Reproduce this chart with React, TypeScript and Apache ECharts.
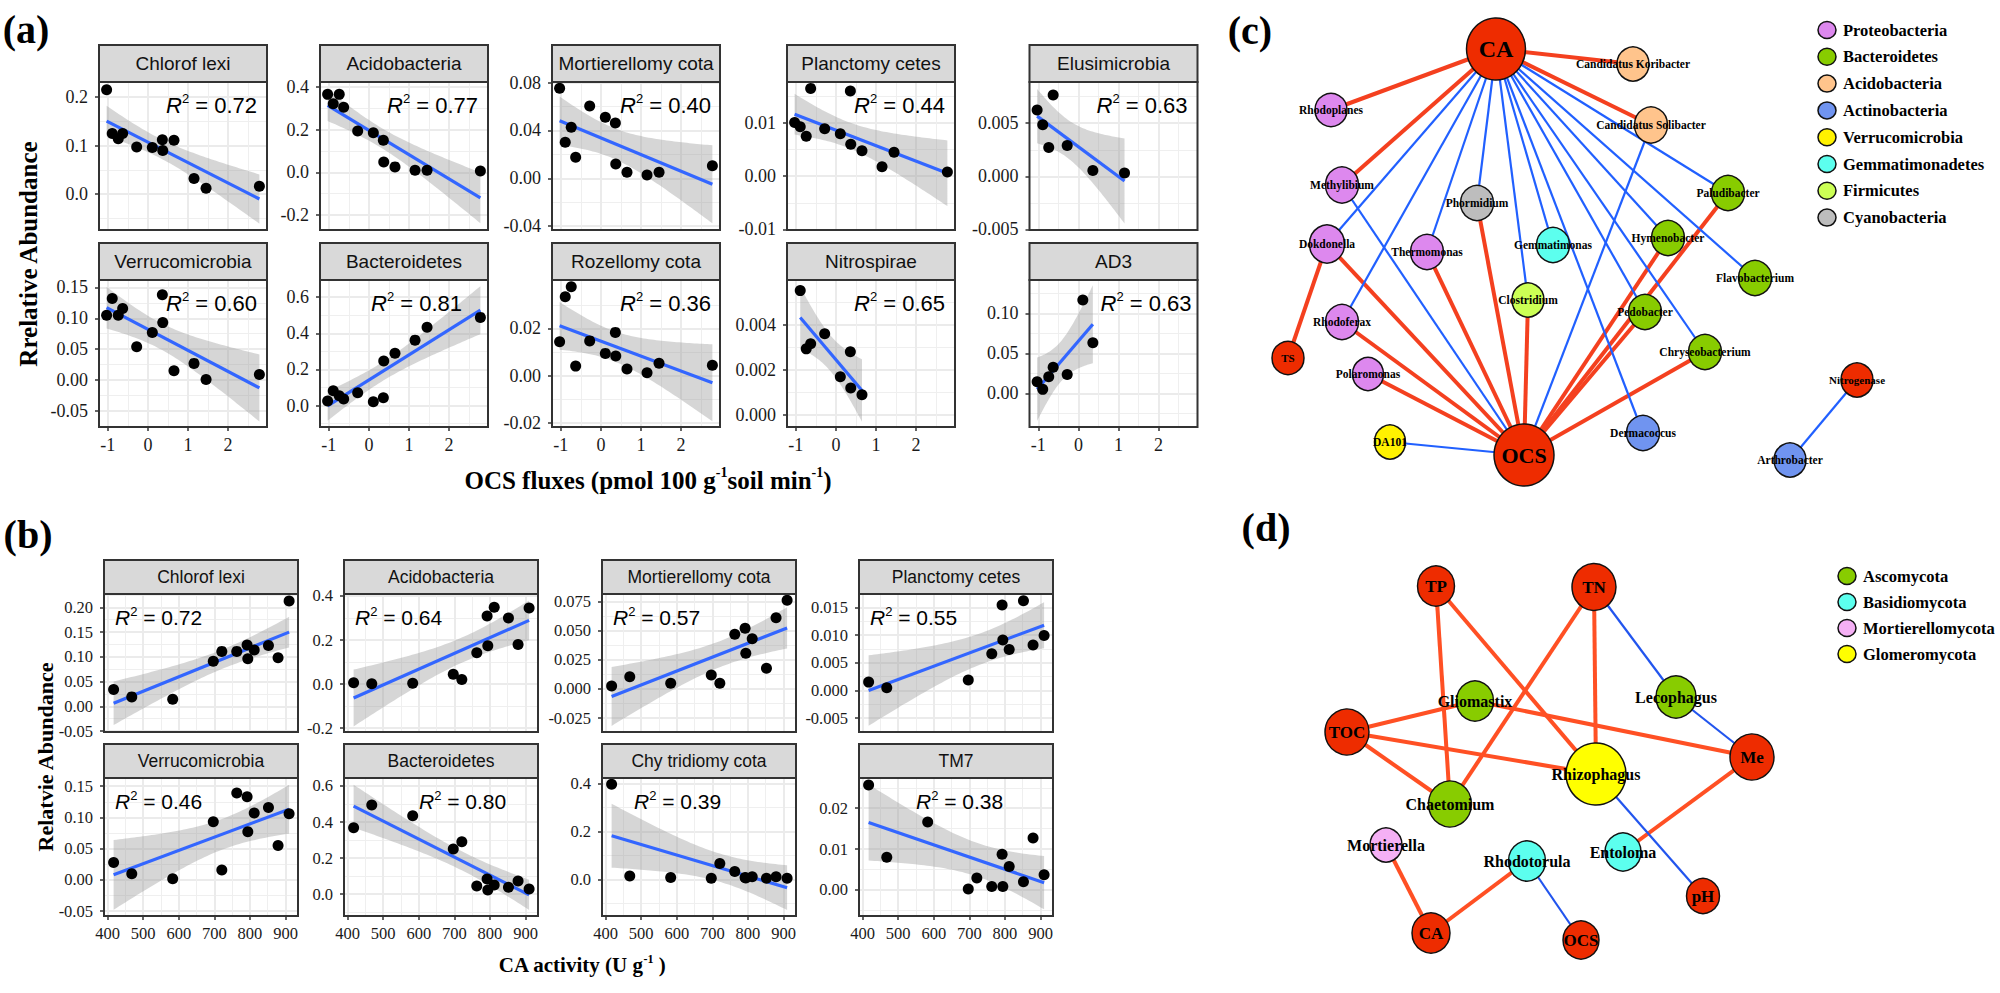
import React, { useEffect, useRef } from "react";
import * as echarts from "echarts";

// ---------------- panel (a): OCS fluxes vs relative abundance ----------------
const ocsFluxes = [-1.03, -0.89, -0.74, -0.63, -0.28, 0.11, 0.36, 0.37, 0.65, 1.15, 1.45, 2.78];
const aChloroflexi = [0.215, 0.125, 0.114, 0.125, 0.097, 0.096, 0.112, 0.09, 0.111, 0.032, 0.012, 0.016];
const aAcidobacteria = [0.366, 0.322, 0.366, 0.306, 0.194, 0.186, 0.151, 0.049, 0.026, 0.01, 0.01, 0.007];
const aMortierellomycota = [0.0753, 0.0301, 0.0427, 0.0176, 0.0605, 0.051, 0.0463, 0.012, 0.005, 0.0028, 0.005, 0.0105];
const aPlanctomycetes = [0.0101, 0.0093, 0.0075, 0.0165, 0.0089, 0.008, 0.016, 0.006, 0.0048, 0.0018, 0.0045, 0.0008];
const aElusimicrobia = [0.00625, 0.00485, 0.00272, 0.00766, 0.00291, null, 0.00056, null, null, 0.00031, null, null];
const aVerrucomicrobia = [0.105, 0.132, 0.105, 0.116, 0.054, 0.077, 0.138, 0.093, 0.015, 0.027, 0.001, 0.009];
const aBacteroidetes = [0.025, 0.082, 0.054, 0.036, 0.071, 0.021, 0.043, 0.246, 0.289, 0.362, 0.433, 0.488];
const aRozellomycota = [0.0143, 0.0334, 0.0376, 0.004, 0.0147, 0.0094, 0.0183, 0.0083, 0.0028, 0.0012, 0.0052, 0.0044];
const aNitrospirae = [null, 0.00551, 0.00293, 0.00316, 0.0036, 0.0017, 0.0028, 0.0012, 0.0009, null, null, null];
const aAD3 = [0.0145, 0.005, 0.0208, 0.0325, 0.0237, 0.1166, 0.0633, null, null, null, null, null];

const aTitles = ["Chlorof lexi", "Acidobacteria", "Mortierellomy cota", "Planctomy cetes", "Elusimicrobia",
  "Verrucomicrobia", "Bacteroidetes", "Rozellomy cota", "Nitrospirae", "AD3"];
const aValues = [aChloroflexi, aAcidobacteria, aMortierellomycota, aPlanctomycetes, aElusimicrobia,
  aVerrucomicrobia, aBacteroidetes, aRozellomycota, aNitrospirae, aAD3];
const aR2 = ["0.72", "0.77", "0.40", "0.44", "0.63", "0.60", "0.81", "0.36", "0.65", "0.63"];
const aXRange = [-1.22, 2.97];
const aXTicks = [-1, 0, 1, 2];
const aYRanges = [[-0.074, 0.231], [-0.27, 0.424], [-0.0433, 0.0806], [-0.0101, 0.0177], [-0.00505, 0.00888],
  [-0.076, 0.162], [-0.119, 0.695], [-0.0218, 0.0405], [-0.00053, 0.00598], [-0.042, 0.1416]];
const aYTicks = [[0, 0.1, 0.2], [-0.2, 0, 0.2, 0.4], [-0.04, 0, 0.04, 0.08], [-0.01, 0, 0.01], [-0.005, 0, 0.005],
  [-0.05, 0, 0.05, 0.1, 0.15], [0, 0.2, 0.4, 0.6], [-0.02, 0, 0.02], [0, 0.002, 0.004], [0, 0.05, 0.1]];
const aYDecimals = [1, 1, 2, 2, 3, 2, 1, 2, 3, 2];

// ---------------- panel (b): CA activity vs relative abundance ----------------
const caActivity = [417, 468, 583, 697, 721, 763, 792, 794, 812, 852, 879, 910];
const bChloroflexi = [0.034, 0.019, 0.014, 0.091, 0.111, 0.111, 0.124, 0.096, 0.114, 0.123, 0.098, 0.213];
const bAcidobacteria = [0.006, 0.001, 0.003, 0.044, 0.021, 0.142, 0.309, 0.174, 0.349, 0.3, 0.18, 0.345];
const bMortierellomycota = [0.0026, 0.0105, 0.0049, 0.012, 0.0049, 0.0468, 0.052, 0.0306, 0.043, 0.0177, 0.061, 0.076];
const bPlanctomycetes = [0.0015, 0.0005, null, 0.0019, null, 0.0066, 0.0154, 0.0091, 0.0074, 0.0162, 0.0082, 0.0099];
const bVerrucomicrobia = [0.028, 0.01, 0.002, 0.093, 0.016, 0.139, 0.133, 0.077, 0.107, 0.116, 0.055, 0.106];
const bBacteroidetes = [0.368, 0.494, 0.435, 0.25, 0.291, 0.045, 0.084, 0.023, 0.051, 0.038, 0.073, 0.029];
const bChytridiomycota = [0.397, 0.015, 0.008, 0.005, 0.067, 0.033, 0.008, 0.006, 0.012, 0.005, 0.012, 0.005];
const bTM7 = [0.0257, 0.008, 0.0166, 0.0002, 0.0029, 0.0008, 0.0087, 0.0008, 0.0057, 0.002, 0.0127, 0.0037];

const bTitles = ["Chlorof lexi", "Acidobacteria", "Mortierellomy cota", "Planctomy cetes",
  "Verrucomicrobia", "Bacteroidetes", "Chy tridiomy cota", "TM7"];
const bValues = [bChloroflexi, bAcidobacteria, bMortierellomycota, bPlanctomycetes,
  bVerrucomicrobia, bBacteroidetes, bChytridiomycota, bTM7];
const bR2 = ["0.72", "0.64", "0.57", "0.55", "0.46", "0.80", "0.39", "0.38"];
const bXRange = [390, 935];
const bXTicks = [400, 500, 600, 700, 800, 900];
const bYRanges = [[-0.052, 0.227], [-0.218, 0.409], [-0.0368, 0.0813], [-0.0075, 0.0174],
  [-0.0576, 0.163], [-0.121, 0.644], [-0.152, 0.423], [-0.0064, 0.0274]];
const bYTicks = [[-0.05, 0, 0.05, 0.1, 0.15, 0.2], [-0.2, 0, 0.2, 0.4], [-0.025, 0, 0.025, 0.05, 0.075],
  [-0.005, 0, 0.005, 0.01, 0.015], [-0.05, 0, 0.05, 0.1, 0.15], [0, 0.2, 0.4, 0.6], [0, 0.2, 0.4], [0, 0.01, 0.02]];
const bYDecimals = [2, 1, 3, 3, 2, 1, 1, 2];

// ---------------- panel (c): bacterial network ----------------
const cGroups = ["Proteobacteria", "Bacteroidetes", "Acidobacteria", "Actinobacteria", "Verrucomicrobia",
  "Gemmatimonadetes", "Firmicutes", "Cyanobacteria"];
const cGroupColors = ["#DD88EE", "#88CC00", "#FFC48C", "#7094F0", "#FFF200", "#5CFFEE", "#CCFF55", "#BDBDBD"];
// [name, group, x, y, width, height]
const cNodes: [string, string, number, number, number, number][] = [
  ["CA", "env", 1496, 49, 59, 62],
  ["OCS", "env", 1524, 455, 60, 62],
  ["Candidatus Koribacter", "Acidobacteria", 1633, 64, 32, 34],
  ["Candidatus Solibacter", "Acidobacteria", 1651, 125, 33, 36],
  ["Rhodoplanes", "Proteobacteria", 1331, 110, 32, 33],
  ["Methylibium", "Proteobacteria", 1342, 185, 33, 36],
  ["Phormidium", "Cyanobacteria", 1477, 203, 33, 35],
  ["Paludibacter", "Bacteroidetes", 1728, 193, 33, 35],
  ["Dokdonella", "Proteobacteria", 1327, 244, 35, 38],
  ["Thermomonas", "Proteobacteria", 1427, 252, 33, 35],
  ["Gemmatimonas", "Gemmatimonadetes", 1553, 245, 33, 35],
  ["Hymenobacter", "Bacteroidetes", 1668, 238, 33, 35],
  ["Clostridium", "Firmicutes", 1528, 300, 32, 34],
  ["Flavobacterium", "Bacteroidetes", 1755, 278, 33, 35],
  ["Pedobacter", "Bacteroidetes", 1645, 312, 33, 35],
  ["Rhodoferax", "Proteobacteria", 1342, 322, 33, 35],
  ["Chryseobacterium", "Bacteroidetes", 1705, 352, 33, 35],
  ["TS", "env", 1288, 358, 32, 33],
  ["Polaromonas", "Proteobacteria", 1368, 374, 31, 33],
  ["Nitrogenase", "env", 1857, 380, 32, 34],
  ["Dermacoccus", "Actinobacteria", 1643, 433, 33, 35],
  ["DA101", "Verrucomicrobia", 1390, 442, 31, 34],
  ["Arthrobacter", "Actinobacteria", 1790, 460, 32, 34],
];
// [source, target, sign]
const cEdges: [string, string, number][] = [
  ["CA", "Rhodoplanes", 1], ["CA", "Methylibium", 1], ["CA", "Candidatus Koribacter", 1], ["CA", "Candidatus Solibacter", 1],
  ["TS", "Dokdonella", 1], ["Dokdonella", "OCS", 1], ["Rhodoferax", "OCS", 1], ["Polaromonas", "OCS", 1],
  ["Thermomonas", "OCS", 1], ["Phormidium", "OCS", 1], ["Clostridium", "OCS", 1], ["Hymenobacter", "OCS", 1],
  ["Pedobacter", "OCS", 1], ["Paludibacter", "OCS", 1], ["Chryseobacterium", "OCS", 1],
  ["CA", "Dokdonella", -1], ["CA", "Rhodoferax", -1], ["CA", "Thermomonas", -1], ["CA", "Phormidium", -1],
  ["CA", "Clostridium", -1], ["CA", "Gemmatimonas", -1], ["CA", "Hymenobacter", -1], ["CA", "Paludibacter", -1],
  ["CA", "Flavobacterium", -1], ["CA", "Pedobacter", -1], ["CA", "Chryseobacterium", -1], ["CA", "Dermacoccus", -1],
  ["Methylibium", "OCS", -1], ["DA101", "OCS", -1], ["Candidatus Solibacter", "OCS", -1], ["Arthrobacter", "Nitrogenase", -1],
];

// ---------------- panel (d): fungal network ----------------
const dGroups = ["Ascomycota", "Basidiomycota", "Mortierellomycota", "Glomeromycota"];
const dGroupColors = ["#88CC00", "#5CFFEE", "#F5B0F5", "#FFFF00"];
const dNodes: [string, string, number, number, number, number][] = [
  ["TP", "env", 1436, 586, 37, 40],
  ["TN", "env", 1594, 587, 44, 47],
  ["TOC", "env", 1347, 732, 44, 46],
  ["Gliomastix", "Ascomycota", 1475, 701, 37, 40],
  ["Lecophagus", "Ascomycota", 1676, 697, 40, 42],
  ["Rhizophagus", "Glomeromycota", 1596, 774, 60, 62],
  ["Me", "env", 1752, 757, 44, 46],
  ["Chaetomium", "Ascomycota", 1450, 804, 43, 46],
  ["Mortierella", "Mortierellomycota", 1386, 845, 32, 34],
  ["Rhodotorula", "Basidiomycota", 1527, 861, 37, 40],
  ["Entoloma", "Basidiomycota", 1623, 852, 36, 38],
  ["pH", "env", 1703, 896, 33, 35],
  ["CA", "env", 1431, 933, 38, 40],
  ["OCS", "env", 1581, 940, 36, 38],
];
const dEdges: [string, string, number][] = [
  ["TP", "Chaetomium", 1], ["TP", "Rhizophagus", 1], ["TN", "Chaetomium", 1], ["TN", "Rhizophagus", 1],
  ["TOC", "Gliomastix", 1], ["TOC", "Chaetomium", 1], ["TOC", "Rhizophagus", 1], ["Gliomastix", "Me", 1],
  ["Me", "Entoloma", 1], ["Mortierella", "CA", 1], ["Rhodotorula", "CA", 1],
  ["TN", "Lecophagus", -1], ["Lecophagus", "Me", -1], ["Rhizophagus", "pH", -1], ["Rhodotorula", "OCS", -1],
];

// ---------------- layout ----------------
const A_COL_LEFT = [99, 320, 552, 787, 1029.5];
const A_ROW_TOP = [82, 280];
const A_ROW_H = [148, 147];
const A_W = 168;
const A_STRIP = 37;
const A_R2_RIGHT = [10, 10, 9, 10, 10, 10, 26, 9, 10, 6];
const B_COL_LEFT = [104, 344, 602, 859];
const B_ROW_TOP = [594, 778];
const B_H = 138;
const B_W = 194;
const B_STRIP = 34;
const B_R2_LEFT = [11, 11, 11, 11, 11, 75, 32, 57];

const SANS = "Liberation Sans";
const SERIF = "Liberation Serif";
const T975: Record<number, number> = { 1: 12.706, 2: 4.303, 3: 3.182, 4: 2.776, 5: 2.571, 6: 2.447, 7: 2.365, 8: 2.306, 9: 2.262, 10: 2.228, 11: 2.201, 12: 2.179 };

function fitLm(xs: number[], ys: (number | null)[]) {
  const pts: [number, number][] = [];
  xs.forEach((x, i) => { const y = ys[i]; if (y !== null && y !== undefined) pts.push([x, y]); });
  const n = pts.length;
  const mx = pts.reduce((s, p) => s + p[0], 0) / n;
  const my = pts.reduce((s, p) => s + p[1], 0) / n;
  let sxx = 0, sxy = 0;
  pts.forEach(([x, y]) => { sxx += (x - mx) ** 2; sxy += (x - mx) * (y - my); });
  const b = sxy / sxx, a = my - b * mx;
  let sse = 0;
  pts.forEach(([x, y]) => { sse += (y - a - b * x) ** 2; });
  const s = Math.sqrt(sse / (n - 2));
  const t = T975[n - 2] ?? 2.2;
  const xmin = Math.min(...pts.map((p) => p[0]));
  const xmax = Math.max(...pts.map((p) => p[0]));
  const upper: number[][] = [], lower: number[][] = [];
  const steps = 60;
  for (let k = 0; k <= steps; k++) {
    const x = xmin + ((xmax - xmin) * k) / steps;
    const f = a + b * x;
    const se = s * Math.sqrt(1 / n + (x - mx) ** 2 / sxx);
    upper.push([x, f + t * se]);
    lower.push([x, f - t * se]);
  }
  return { pts, line: [[xmin, a + b * xmin], [xmax, a + b * xmax]], upper, lower };
}

function minorValues(majors: number[], range: number[]) {
  const step = majors[1] - majors[0];
  const out: number[] = [];
  for (let v = majors[0] - step / 2; v <= range[1]; v += step) {
    if (v > range[0] && v < range[1]) out.push(Math.round(v * 1e9) / 1e9);
  }
  return out;
}

function axisPair(gridIndex: number, range: number[], majors: number[], showLabels: boolean, dec: number, fs: number, isY: boolean) {
  const minors = minorValues(majors, range);
  const pos = isY ? "left" : "bottom";
  return [
    {
      type: "value", gridIndex, min: range[0], max: range[1], position: pos,
      axisLine: { show: false, onZero: false },
      axisTick: { show: showLabels, customValues: majors, length: 4, lineStyle: { color: "#333", width: 1.5 } },
      axisLabel: {
        show: showLabels, customValues: majors, formatter: (v: number) => v.toFixed(dec),
        fontFamily: SERIF, fontSize: fs, color: "#1a1a1a", margin: isY ? 11 : 9,
      },
      splitLine: { show: true, lineStyle: { color: "#EBEBEB", width: 2 } },
    },
    {
      type: "value", gridIndex, min: range[0], max: range[1], position: pos,
      axisLine: { show: false, onZero: false },
      axisTick: { show: false, customValues: minors },
      axisLabel: { show: false, customValues: minors },
      splitLine: { show: true, lineStyle: { color: "#EFEFEF", width: 1 } },
    },
  ];
}

function r2Text(val: string, fs: number) {
  return {
    text: `{i|R}{s|2}{n| = ${val}}`,
    rich: {
      i: { fontFamily: SANS, fontStyle: "italic", fontSize: fs, lineHeight: fs + 4, fill: "#000" },
      s: { fontFamily: SANS, fontSize: Math.round(fs * 0.6), lineHeight: Math.round(fs * 0.6), verticalAlign: "top", fill: "#000" },
      n: { fontFamily: SANS, fontSize: fs, lineHeight: fs + 4, fill: "#000" },
    },
  };
}

function buildOption() {
  const grid: any[] = [], xAxis: any[] = [], yAxis: any[] = [], series: any[] = [], elements: any[] = [];
  type P = { title: string; xs: number[]; ys: (number | null)[]; xr: number[]; xt: number[]; yr: number[]; yt: number[]; dec: number; r2: string; l: number; t: number; w: number; h: number; strip: number; showX: boolean; fs: number; stripFs: number; r2Fs: number; r2x: number; r2y: number; r2Align: string; xdec: number };
  const panels: P[] = [];
  aTitles.forEach((title, i) => {
    const col = i % 5, row = Math.floor(i / 5);
    const l = A_COL_LEFT[col], t = A_ROW_TOP[row], h = A_ROW_H[row];
    panels.push({ title, xs: ocsFluxes, ys: aValues[i], xr: aXRange, xt: aXTicks, yr: aYRanges[i], yt: aYTicks[i], dec: aYDecimals[i], r2: aR2[i], l, t, w: A_W, h, strip: A_STRIP, showX: row === 1, fs: 18, stripFs: 19, r2Fs: 22, r2x: l + A_W - A_R2_RIGHT[i], r2y: t + 23, r2Align: "right", xdec: 0 });
  });
  bTitles.forEach((title, i) => {
    const col = i % 4, row = Math.floor(i / 4);
    const l = B_COL_LEFT[col], t = B_ROW_TOP[row];
    panels.push({ title, xs: caActivity, ys: bValues[i], xr: bXRange, xt: bXTicks, yr: bYRanges[i], yt: bYTicks[i], dec: bYDecimals[i], r2: bR2[i], l, t, w: B_W, h: B_H, strip: B_STRIP, showX: row === 1, fs: 16.5, stripFs: 17.5, r2Fs: 21, r2x: l + B_R2_LEFT[i], r2y: t + 23, r2Align: "left", xdec: 0 });
  });

  panels.forEach((p, i) => {
    grid.push({ left: p.l, top: p.t, width: p.w, height: p.h, show: true, backgroundColor: "#fff", borderWidth: 0 });
    xAxis.push(...axisPair(i, p.xr, p.xt, p.showX, p.xdec, p.fs, false));
    yAxis.push(...axisPair(i, p.yr, p.yt, true, p.dec, p.fs, true));
    const fit = fitLm(p.xs, p.ys);
    const xi = 2 * i, yi = 2 * i;
    series.push({
      type: "custom", xAxisIndex: xi, yAxisIndex: yi, clip: true, silent: true, z: 2,
      data: [[fit.line[0][0], fit.line[0][1]]],
      renderItem: (_params: any, api: any) => {
        const pts = fit.upper.map((q) => api.coord(q)).concat(fit.lower.slice().reverse().map((q) => api.coord(q)));
        return { type: "polygon", shape: { points: pts }, style: { fill: "rgba(153,153,153,0.4)" } };
      },
    });
    series.push({
      type: "line", xAxisIndex: xi, yAxisIndex: yi, data: fit.line, showSymbol: false, silent: true, z: 3,
      lineStyle: { color: "#3366FF", width: 3.2 },
    });
    series.push({
      type: "scatter", xAxisIndex: xi, yAxisIndex: yi, data: fit.pts, symbolSize: 11, silent: true, z: 4,
      itemStyle: { color: "#000", opacity: 1 },
    });
    elements.push({ type: "rect", z: 50, shape: { x: p.l, y: p.t, width: p.w, height: p.h }, style: { fill: "none", stroke: "#333", lineWidth: 2 } });
    elements.push({ type: "rect", z: 50, shape: { x: p.l, y: p.t - p.strip, width: p.w, height: p.strip }, style: { fill: "#D9D9D9", stroke: "#333", lineWidth: 2 } });
    elements.push({ type: "text", z: 51, x: p.l + p.w / 2, y: p.t - p.strip / 2, style: { text: p.title, fontFamily: SANS, fontSize: p.stripFs, fill: "#111", align: "center", verticalAlign: "middle", textAlign: "center", textVerticalAlign: "middle" } });
    elements.push({ type: "text", z: 51, x: p.r2x, y: p.r2y, style: { ...r2Text(p.r2, p.r2Fs), align: p.r2Align, verticalAlign: "middle", textAlign: p.r2Align, textVerticalAlign: "middle" } });
  });

  const ov = panels.length;
  grid.push({ left: 0, top: 0, width: 2000, height: 993, show: false });
  xAxis.push({ type: "value", gridIndex: ov, min: 0, max: 2000, show: false });
  yAxis.push({ type: "value", gridIndex: ov, min: 0, max: 993, inverse: true, show: false });
  const xo = 2 * ov;

  const netSeries = (nodes: typeof cNodes, edges: typeof cEdges, groups: string[], colors: string[], red: string, blue: string, envFs: (n: string) => number, taxFs: number) => ({
    type: "graph", coordinateSystem: "cartesian2d", xAxisIndex: xo, yAxisIndex: xo, silent: true, z: 5,
    emphasis: { disabled: true },
    data: nodes.map(([name, group, x, y, w, h]) => ({
      name, value: [x, y], symbol: "circle", symbolSize: [w, h],
      itemStyle: { color: group === "env" ? "#EE2C00" : colors[groups.indexOf(group)], borderColor: "#111", borderWidth: 1.5 },
      label: { show: true, position: "inside", fontFamily: SERIF, fontWeight: "bold", fontSize: group === "env" ? envFs(name) : taxFs, color: "#000" },
    })),
    links: edges.map(([s, t, sign]) => ({ source: s, target: t, lineStyle: { color: sign > 0 ? red : blue, width: sign > 0 ? 4 : 2.2, opacity: 1, curveness: 0 } })),
    lineStyle: { opacity: 1 },
  });
  series.push(netSeries(cNodes, cEdges, cGroups, cGroupColors, "#F4401F", "#2160FF", (n) => (n === "CA" ? 24 : n === "OCS" ? 22 : 11), 11.5));
  series.push(netSeries(dNodes, dEdges, dGroups, dGroupColors, "#FF5024", "#2255EE", () => 17, 16));

  cGroups.forEach((g, i) => {
    const y = 30 + i * 26.8;
    elements.push({ type: "ellipse", z: 60, shape: { cx: 1827, cy: y, rx: 9, ry: 8.5 }, style: { fill: cGroupColors[i], stroke: "#111", lineWidth: 1.5 } });
    elements.push({ type: "text", z: 60, x: 1843, y, style: { text: g, fontFamily: SERIF, fontWeight: "bold", fontSize: 16.5, fill: "#000", align: "left", verticalAlign: "middle", textAlign: "left", textVerticalAlign: "middle" } });
  });
  dGroups.forEach((g, i) => {
    const y = 576 + i * 26;
    elements.push({ type: "ellipse", z: 60, shape: { cx: 1847, cy: y, rx: 9, ry: 8.5 }, style: { fill: dGroupColors[i], stroke: "#111", lineWidth: 1.5 } });
    elements.push({ type: "text", z: 60, x: 1863, y, style: { text: g, fontFamily: SERIF, fontWeight: "bold", fontSize: 16.5, fill: "#000", align: "left", verticalAlign: "middle", textAlign: "left", textVerticalAlign: "middle" } });
  });

  const plab = (text: string, x: number, y: number) => ({ type: "text", z: 60, x, y, style: { text, fontFamily: SERIF, fontWeight: "bold", fontSize: 40, fill: "#000", align: "center", verticalAlign: "middle", textAlign: "center", textVerticalAlign: "middle" } });
  elements.push(plab("(a)", 26, 29), plab("(b)", 28, 534), plab("(c)", 1250, 30), plab("(d)", 1266, 527));

  const boldRich = (fs: number) => ({
    n: { fontFamily: SERIF, fontWeight: "bold", fontSize: fs, lineHeight: fs + 4, fill: "#000" },
    s: { fontFamily: SERIF, fontWeight: "bold", fontSize: Math.round(fs * 0.58), lineHeight: Math.round(fs * 0.58), verticalAlign: "top", fill: "#000" },
  });
  elements.push({ type: "text", z: 60, x: 648, y: 480, style: { text: "{n|OCS fluxes (pmol 100 g}{s|-1}{n|soil min}{s|-1}{n|)}", rich: boldRich(25), align: "center", verticalAlign: "middle", textAlign: "center", textVerticalAlign: "middle" } });
  elements.push({ type: "text", z: 60, x: 582, y: 965, style: { text: "{n|CA activity (U g}{s|-1}{n| )}", rich: boldRich(21), align: "center", verticalAlign: "middle", textAlign: "center", textVerticalAlign: "middle" } });
  elements.push({ type: "text", z: 60, x: 28, y: 254, rotation: Math.PI / 2, style: { text: "Rrelative Abundance", x: 0, y: 0, fontFamily: SERIF, fontWeight: "bold", fontSize: 25, fill: "#000", align: "center", verticalAlign: "middle", textAlign: "center", textVerticalAlign: "middle" } });
  elements.push({ type: "text", z: 60, x: 45, y: 757, rotation: Math.PI / 2, style: { text: "Relatvie Abundance", x: 0, y: 0, fontFamily: SERIF, fontWeight: "bold", fontSize: 22, fill: "#000", align: "center", verticalAlign: "middle", textAlign: "center", textVerticalAlign: "middle" } });

  return { animation: false, backgroundColor: "#fff", grid, xAxis, yAxis, series, graphic: { elements } };
}

export default function App() {
  const ref = useRef<HTMLDivElement>(null);
  useEffect(() => {
    document.body.style.margin = "0";
    const chart = echarts.init(ref.current as HTMLDivElement, undefined, { renderer: "svg" });
    chart.setOption(buildOption() as any);
    return () => chart.dispose();
  }, []);
  return <div ref={ref} style={{ width: 2000, height: 993, background: "#fff" }} />;
}
